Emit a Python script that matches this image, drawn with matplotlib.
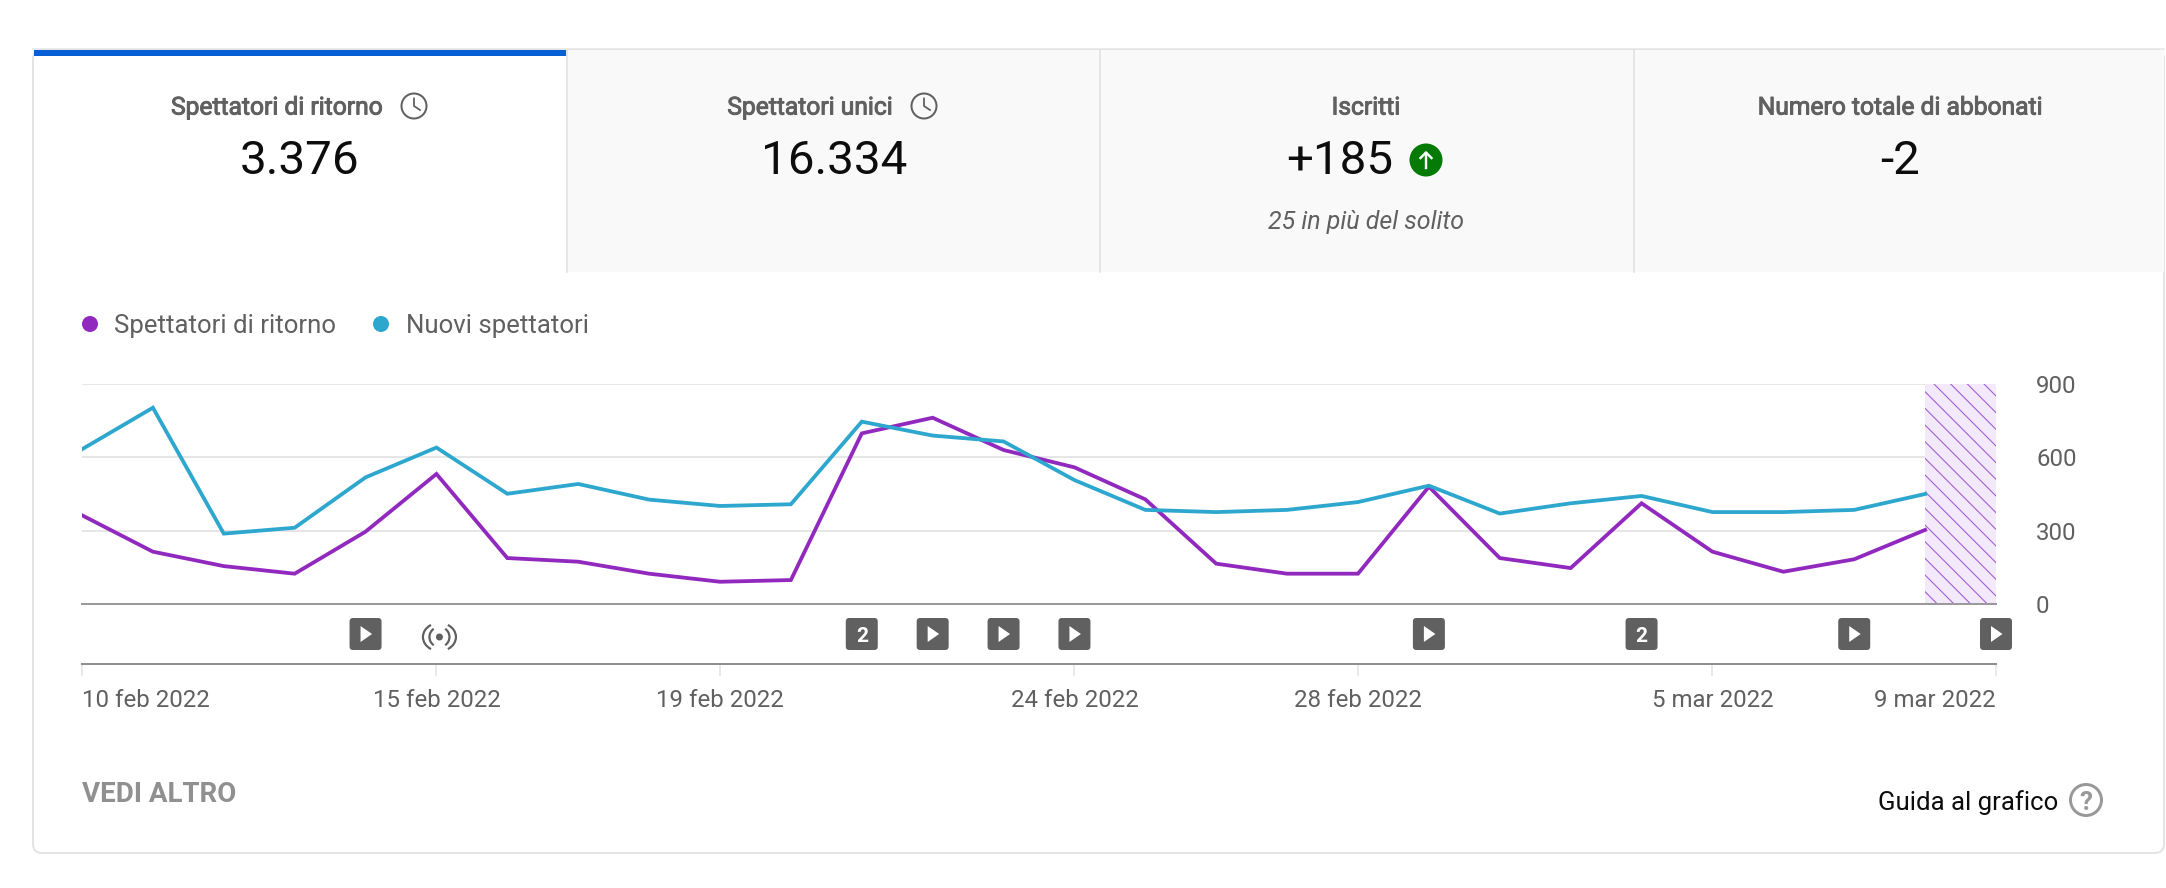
import matplotlib
matplotlib.use("Agg")
import matplotlib.pyplot as plt
import matplotlib.patheffects as pe
import numpy as np
from matplotlib.patches import FancyBboxPatch, Rectangle, Circle, Polygon, Arc

plt.rcParams['font.family'] = ['Roboto', 'DejaVu Sans']
plt.rcParams['hatch.linewidth'] = 0.8
plt.rcParams['hatch.color'] = '#a45fd6'

# ---- data -------------------------------------------------------------
returning = [363, 214, 155, 124, 296, 532, 188, 173, 124, 91, 98, 698, 762, 630,
             559, 428, 165, 124, 124, 480, 188, 147, 412, 214, 132, 183, 303]
new_viewers = [633, 803, 288, 312, 518, 640, 451, 491, 427, 401, 408, 746, 689, 665,
               507, 385, 376, 385, 417, 484, 370, 412, 442, 376, 376, 385, 450]
series_names = ['Spettatori di ritorno', 'Nuovi spettatori']
y_ticks = [0, 300, 600, 900]
x_tick_days = [0, 5, 9, 14, 18, 23, 27]
x_tick_labels = ['10 feb 2022', '15 feb 2022', '19 feb 2022', '24 feb 2022',
                 '28 feb 2022', '5 mar 2022', '9 mar 2022']
play_days = [4, 12, 13, 14, 19, 25, 27]
count_days = [11, 22]
count_labels = ['2', '2']
live_days = [5]
partial_span = [26, 27]
tab_titles = ['Spettatori di ritorno', 'Spettatori unici', 'Iscritti', 'Numero totale di abbonati']
tab_values = ['3.376', '16.334', '+185', '-2']

W, H = 2166, 888
PURPLE, TEAL = '#9229bf', '#2ea7cf'
TXT, TXT_D = '#606060', '#0d0d0d'
px = 72 / 100  # one pixel, in points

fig = plt.figure(figsize=(W / 100, H / 100), dpi=100, facecolor='white')

def axes_px(l, t, r, b, **kw):
    return fig.add_axes([l / W, 1 - b / H, (r - l) / W, (b - t) / H], **kw)

# ---- page layer (pixel coordinates) ------------------------------------
page = axes_px(0, 0, W, H)
page.set_xlim(0, W); page.set_ylim(H, 0); page.axis('off')

page.add_patch(FancyBboxPatch((33, 50), 2131, 803, boxstyle='round,pad=0,rounding_size=9',
                              fc='white', ec='#e4e4e4', lw=2 * px))
page.add_patch(Rectangle((566, 50), 1598, 222, fc='#f9f9f9', ec='none'))
page.plot([33, 2164], [49.5, 49.5], color='#e4e4e4', lw=1.5 * px)
page.add_patch(Rectangle((34, 50), 532, 6.5, fc='#065fd4', ec='none', zorder=3))
for x in (566.5, 1100, 1633.5):
    page.plot([x, x], [50, 272], color='#dfdfdf', lw=1.5 * px)

def clock(cx, cy, r=12.5):
    page.add_patch(Circle((cx, cy), r, fc='none', ec=TXT, lw=2 * px))
    page.plot([cx, cx, cx + 6], [cy - 7.5, cy, cy + 4], color=TXT, lw=1.8 * px)

medium = [pe.withStroke(linewidth=0.7, foreground=TXT)]
for title, cx in zip(tab_titles, (277, 810, 1366, 1900)):
    page.text(cx, 105, title, ha='center', va='center_baseline', fontsize=24.6 * px,
              color=TXT, path_effects=medium)
for value, cx in zip(tab_values, (300, 834, 1340, 1900)):
    page.text(cx, 157, value, ha='center', va='center_baseline', fontsize=47.5 * px, color=TXT_D)
clock(414, 106); clock(924, 106)
page.text(1366, 219, '25 in più del solito', ha='center', va='center_baseline',
          fontsize=25 * px, color=TXT, style='italic')

page.add_patch(Circle((1426, 160), 16.5, fc='#067a06', ec='none'))
page.plot([1426, 1426], [168, 153], color='white', lw=2.4 * px)
page.plot([1420.5, 1426, 1431.5], [158, 152.5, 158], color='white', lw=2.4 * px)

# legend
for cx, tx, name, col in zip((90, 381), (114, 406), series_names, (PURPLE, TEAL)):
    page.add_patch(Circle((cx, 324), 8, fc=col, ec='none'))
    page.text(tx, 323, name, ha='left', va='center_baseline', fontsize=25.7 * px, color=TXT)

# footer
page.text(82, 791, 'VEDI ALTRO', ha='left', va='center_baseline', fontsize=27.7 * px,
          color='#909090', fontweight='bold')
page.text(1878, 800, 'Guida al grafico', ha='left', va='center_baseline', fontsize=25.7 * px, color=TXT_D)
page.add_patch(Circle((2086, 800), 15.5, fc='none', ec='#999999', lw=3 * px))
page.text(2086, 800, '?', ha='center', va='center_baseline', fontsize=26 * px,
          color='#999999', fontweight='bold')

# ---- chart -------------------------------------------------------------
L, R = 82, 1996
ax = axes_px(L, 384, R, 604)
ax.patch.set_alpha(0)
days = np.arange(len(returning))
ax.set_xlim(0, 27); ax.set_ylim(0, 900)
ax.axvspan(partial_span[0], partial_span[1], facecolor='#f2e9fa', edgecolor='#a45fd6',
           hatch='\\\\', lw=0, zorder=1)
ax.set_yticks(y_ticks)
ax.grid(axis='y', color='#e6e6e6', lw=2 * px, zorder=0)
ax.set_axisbelow(True)
ax.plot(days, returning, color=PURPLE, lw=3.8 * px, zorder=3, solid_joinstyle='miter')
ax.plot(days, new_viewers, color=TEAL, lw=3.8 * px, zorder=4, solid_joinstyle='miter')
ax.set_xticks([])
ax.yaxis.tick_right()
ax.tick_params(axis='y', length=0, pad=40 * px, labelsize=24 * px, labelcolor=TXT)
for lab in ax.get_yticklabels():
    lab.set_va('center_baseline')
for s in ('top', 'left', 'right'):
    ax.spines[s].set_visible(False)
ax.spines['bottom'].set_color('#9a9a9a')
ax.spines['bottom'].set_linewidth(2 * px)
ax.spines['bottom'].set_zorder(5)

# annotation strip and date axis
strip = axes_px(L, 604, R, 664)
strip.patch.set_alpha(0)
strip.set_xlim(0, 27); strip.set_ylim(664, 604)
for s in ('top', 'left', 'right'):
    strip.spines[s].set_visible(False)
strip.spines['bottom'].set_color('#8f8f8f')
strip.spines['bottom'].set_linewidth(2 * px)
strip.set_yticks([])
strip.set_xticks(x_tick_days)
strip.set_xticklabels(x_tick_labels)
strip.tick_params(axis='x', length=12 * px, width=1.5 * px, color='#e2e2e2',
                  pad=12.5 * px, labelsize=24 * px, labelcolor=TXT)
labels = strip.get_xticklabels()
labels[0].set_ha('left'); labels[-1].set_ha('right')

def day_px(day):
    return page.transData.inverted().transform(strip.transData.transform((day, 634)))

def button(day):
    cx, cy = day_px(day)
    p = FancyBboxPatch((cx - 16, cy - 16), 32, 32, boxstyle='round,pad=0,rounding_size=3.5',
                       fc='#606060', ec='none', zorder=6, clip_on=False)
    page.add_patch(p)
    return cx, cy

for d in play_days:
    cx, cy = button(d)
    page.add_patch(Polygon([(cx - 5, cy - 8), (cx - 5, cy + 8), (cx + 6.5, cy)], fc='white', ec='none', zorder=7))
for d, lab in zip(count_days, count_labels):
    cx, cy = button(d)
    page.text(cx, cy, lab, ha='center', va='center_baseline', fontsize=21 * px, color='white',
              fontweight='bold', zorder=7)
for d in live_days:
    cx, cy = day_px(d)
    cy += 3
    page.add_patch(Circle((cx + 3, cy), 3.5, fc=TXT, ec='none'))
    for w, h in ((20, 20), (33, 28)):
        page.add_patch(Arc((cx + 3, cy), w, h, theta1=125, theta2=235, color=TXT, lw=2.2 * px))
        page.add_patch(Arc((cx + 3, cy), w, h, theta1=-55, theta2=55, color=TXT, lw=2.2 * px))

fig.savefig('out.png', dpi=100)
